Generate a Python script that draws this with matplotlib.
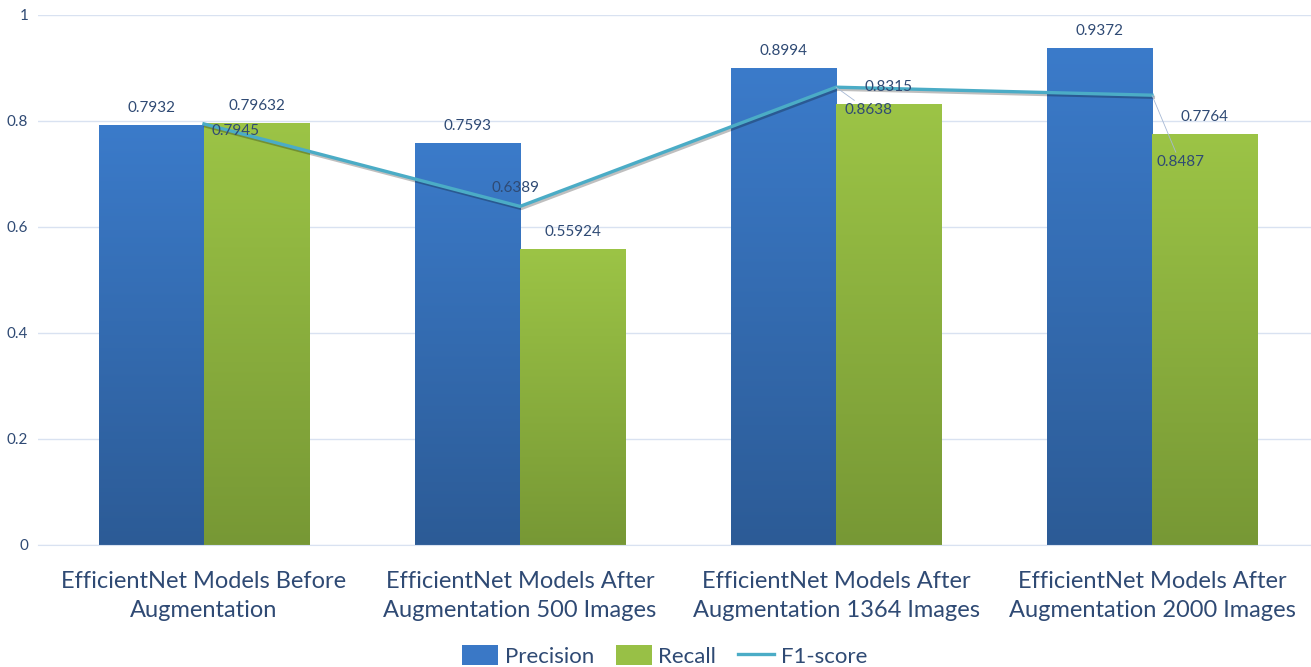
import numpy as np
import matplotlib.pyplot as plt
from matplotlib.colors import LinearSegmentedColormap
import matplotlib.patheffects as pe

plt.rcParams['font.family'] = ['Lato', 'DejaVu Sans']

categories = [
    "EfficientNet Models Before\nAugmentation",
    "EfficientNet Models After\nAugmentation 500 Images",
    "EfficientNet Models After\nAugmentation 1364 Images",
    "EfficientNet Models After\nAugmentation 2000 Images",
]
precision = [0.7932, 0.7593, 0.8994, 0.9372]
recall = [0.79632, 0.55924, 0.8315, 0.7764]
f1_score = [0.7945, 0.6389, 0.8638, 0.8487]
recall_labels = ["0.79632", "0.55924", "0.8315", "0.7764"]
y_ticks = [0, 0.2, 0.4, 0.6, 0.8, 1]
y_tick_labels = ["0", "0.2", "0.4", "0.6", "0.8", "1"]

# where each F1 label sits relative to its point (pixels)
f1_offsets = [(32, -7), (-4, 18), (32, -23), (28, -67)]

text_col = "#2f4a74"
grid_col = "#d9e2f1"
line_col = "#4bacc6"

blue_cmap = LinearSegmentedColormap.from_list("blue", ["#2c5b96", "#3b7bca"])
green_cmap = LinearSegmentedColormap.from_list("green", ["#779835", "#9cc446"])

fig = plt.figure(figsize=(13.11, 6.67), dpi=100)
ax = fig.add_axes([38 / 1311, 1 - 545 / 667, 1 - 38 / 1311, 530 / 667])

x = np.arange(len(categories))
w = 1 / 3

bars_p = ax.bar(x - w / 2, precision, w, color="#3a78c6", label="Precision", zorder=2)
bars_r = ax.bar(x + w / 2, recall, w, color="#98c046", label="Recall", zorder=2)

# vertical gradient fill inside each bar
grad = np.linspace(0, 1, 256).reshape(-1, 1)
for bars, cmap in ((bars_p, blue_cmap), (bars_r, green_cmap)):
    for b in bars:
        x0, h, bw = b.get_x(), b.get_height(), b.get_width()
        im = ax.imshow(grad, cmap=cmap, origin="lower", aspect="auto",
                       extent=[x0, x0 + bw, 0, h], zorder=2.5)
        im.set_clip_path(b)

f1_line, = ax.plot(x, f1_score, color=line_col, lw=2.4, label="F1-score", zorder=4,
                   path_effects=[pe.SimpleLineShadow(offset=(1, -1.5), alpha=0.25), pe.Normal()])

for b, v in zip(bars_p, precision):
    ax.annotate(f"{v}", (b.get_x() + b.get_width() / 2, v), xytext=(0, 17),
                textcoords="offset pixels", ha="center", va="center",
                fontsize=11, color=text_col, zorder=5)
for b, v, s in zip(bars_r, recall, recall_labels):
    ax.annotate(s, (b.get_x() + b.get_width() / 2, v), xytext=(0, 17),
                textcoords="offset pixels", ha="center", va="center",
                fontsize=11, color=text_col, zorder=5)
for i, (v, off) in enumerate(zip(f1_score, f1_offsets)):
    arrow = None
    if abs(off[1]) > 20:
        arrow = dict(arrowstyle="-", color="#a6b8d4", lw=0.6, shrinkA=0, shrinkB=0)
    ax.annotate(f"{v}", (x[i], v), xytext=off, textcoords="offset pixels",
                ha="center", va="center", fontsize=11, color=text_col,
                arrowprops=arrow, zorder=5)

ax.set_xlim(-(204 - 38) / 316, 3 + (1311 - 1152) / 316)
ax.set_ylim(0, 1)
ax.set_yticks(y_ticks)
ax.set_yticklabels(y_tick_labels)
ax.set_xticks(x)
ax.set_xticklabels(categories, fontsize=17, color=text_col, linespacing=1.42)
ax.tick_params(axis="y", length=0, pad=7, labelsize=11, labelcolor=text_col)
ax.tick_params(axis="x", length=0, pad=19)
ax.grid(axis="y", color=grid_col, lw=1, zorder=0)
for s in ["top", "right", "left"]:
    ax.spines[s].set_visible(False)
ax.spines["bottom"].set_color(grid_col)

# plain line handle for the legend, without the shadow
legend_line = plt.Line2D([], [], color=line_col, lw=2.4)
fig.legend([bars_p, bars_r, legend_line], ["Precision", "Recall", "F1-score"],
           loc="lower center", bbox_to_anchor=(0.507, -0.03), ncol=3, frameon=False,
           fontsize=16, labelcolor=text_col, handlelength=1.6, handleheight=1.0,
           handletextpad=0.3, columnspacing=1.0)

fig.savefig("out.png", dpi=100)
